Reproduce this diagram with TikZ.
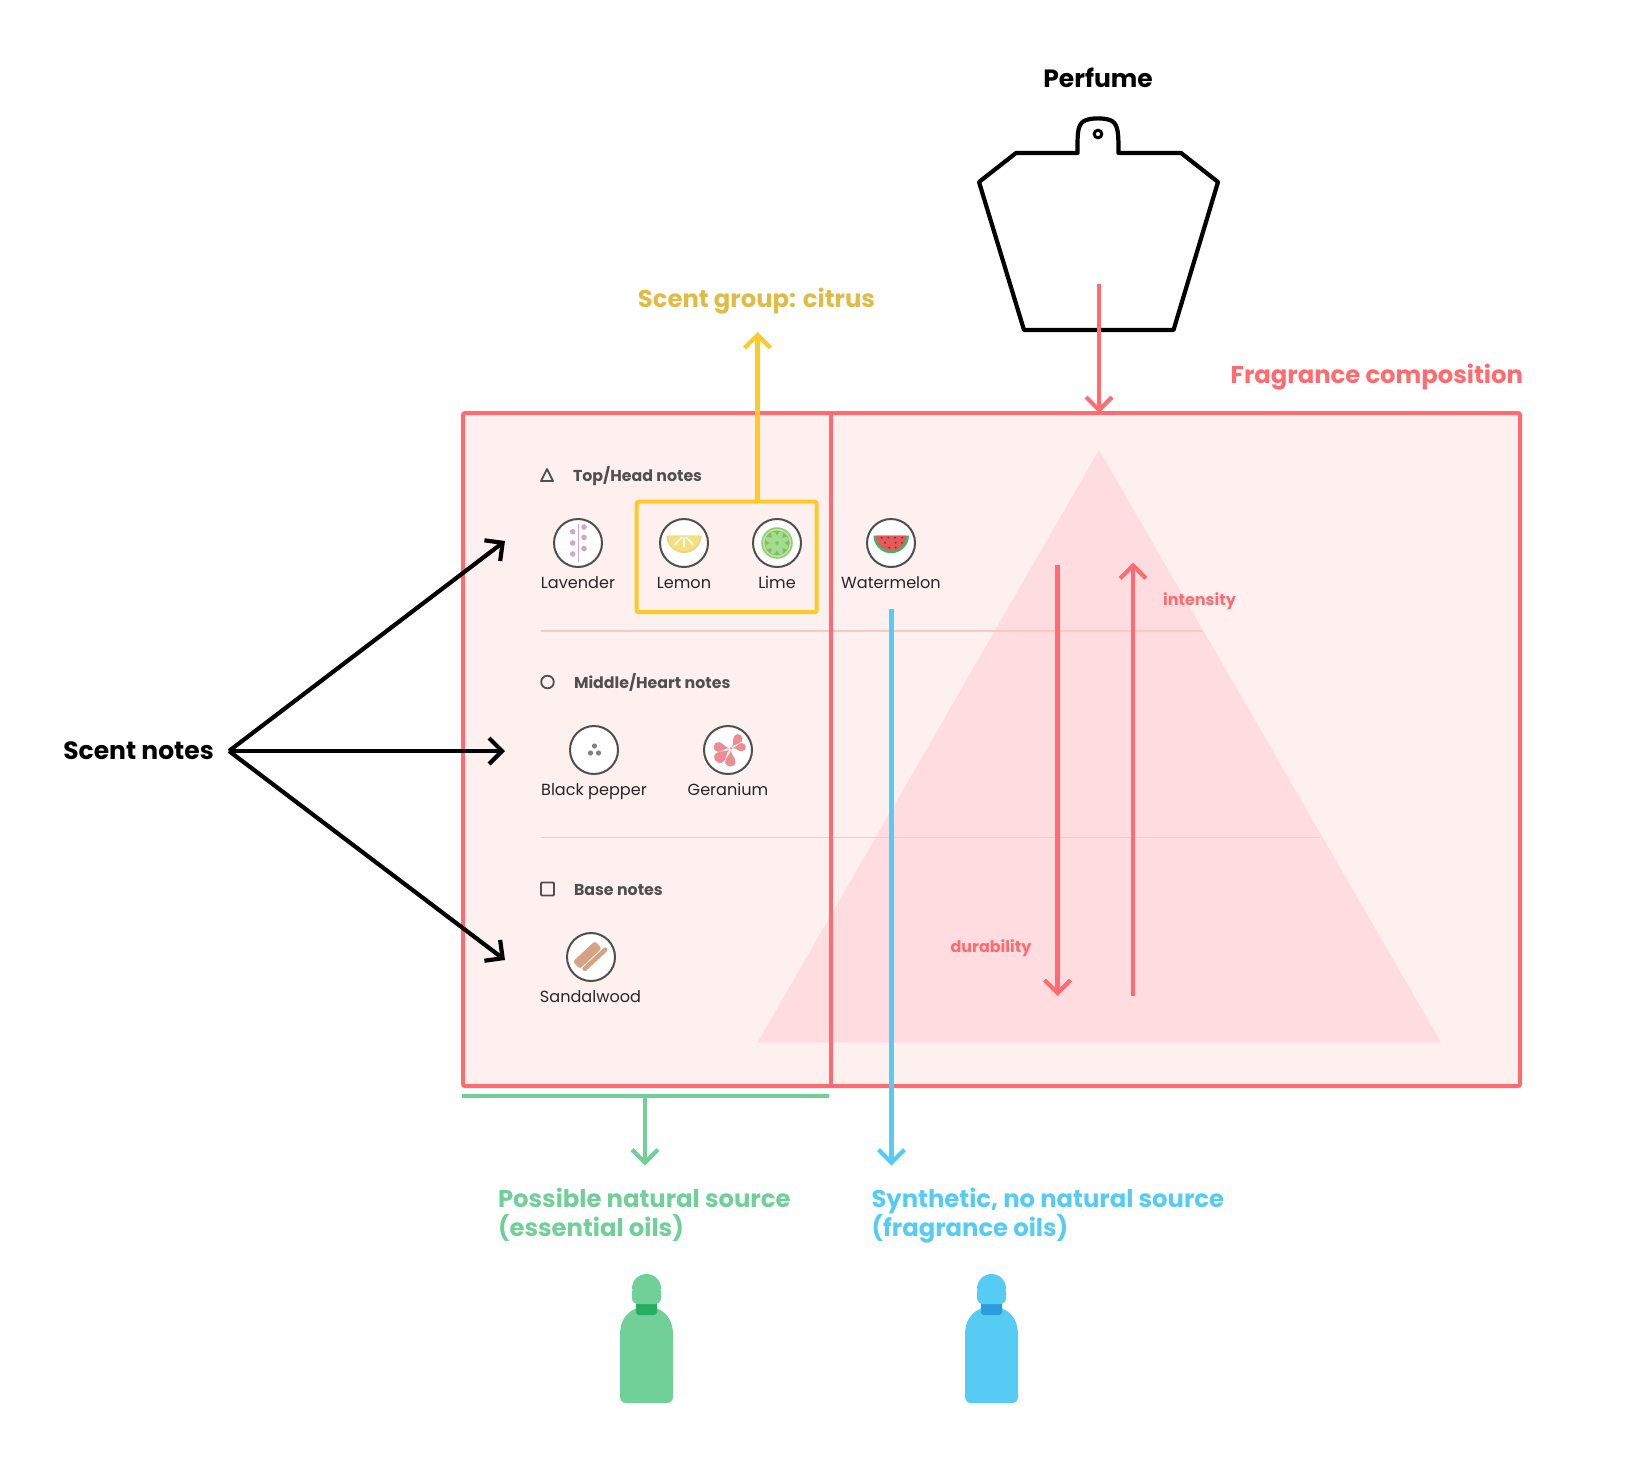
\documentclass[tikz,border=0pt]{standalone}
\usepackage{fontspec}
\setmainfont{Poppins}
\usetikzlibrary{arrows.meta}
\definecolor{cred}{HTML}{FF6B6E}
\definecolor{cbg}{HTML}{FFF0F0}
\definecolor{ctri}{HTML}{FFDCE0}
\definecolor{cdiv}{HTML}{FFC6C6}
\definecolor{cyel}{HTML}{FFC928}
\definecolor{cyeltxt}{HTML}{E0BC45}
\definecolor{cgreen}{HTML}{70D098}
\definecolor{cgreend}{HTML}{27AE60}
\definecolor{cblue}{HTML}{56CCF5}
\definecolor{cblued}{HTML}{2D9CDB}
\definecolor{cgrey}{HTML}{4F4F4F}
\definecolor{cpurple}{HTML}{CFA9CB}
\definecolor{cpink}{HTML}{EB8E94}
\definecolor{cwood}{HTML}{D4A384}
\definecolor{clemon}{HTML}{F5DF80}
\definecolor{clemrim}{HTML}{EBD285}
\definecolor{climea}{HTML}{8FD082}
\definecolor{climeb}{HTML}{CDE88E}
\definecolor{climec}{HTML}{A4DE8C}
\definecolor{cmelon}{HTML}{EB5757}
\tikzset{
  x=1pt,y=-1pt,
  every node/.style={inner sep=0pt,outer sep=0pt},
  barb/.style={line width=4.2pt,-{Straight Barb[length=13pt,width=26pt,line width=4.2pt]}},
  iconc/.style={circle,draw=cgrey,fill=white,line width=2pt,minimum size=48pt},
  lab/.style={font=\fontsize{16.1}{18}\selectfont,text=black!85,anchor=base},
  head/.style={font=\fontsize{15.8}{18}\selectfont\bfseries,text=cgrey,anchor=base west},
  big/.style={font=\fontsize{24.3}{29}\selectfont\bfseries,anchor=west,align=left},
  small/.style={font=\fontsize{16}{18}\selectfont\bfseries,text=cred},
}
\begin{document}
\begin{tikzpicture}
\useasboundingbox (0,0) rectangle (1627,1480);
% panel
\node[draw=none,fill=cbg,minimum width=1057pt,minimum height=673pt,anchor=north west,rounded corners=2pt] (panel) at (463,413) {};
\fill[ctri] (1099,450) -- (1441,1042.5) -- (757.5,1042.5) -- cycle;
\coordinate (d1a) at (540.5,631); \coordinate (d1b) at (1201.5,631);
\coordinate (d2a) at (540.5,837.5); \coordinate (d2b) at (1320,837.5);
\draw[cdiv,line width=1.3pt] (d1a) -- (d1b);
\draw[cdiv,line width=1.3pt] (d2a) -- (d2b);
\draw[cred,line width=4pt,rounded corners=2pt] (panel.north west) rectangle (panel.south east);
\coordinate (split1) at (831,413); \coordinate (split2) at (831,1086);
\draw[cred,line width=4pt] (split1) -- (split2);
% headings
\draw[cgrey,line width=1.8pt,line join=round] (547,469) -- (553,481) -- (541,481) -- cycle;
\node[head] (h1) at (573,481.5) {Top/Head notes};
\draw[cgrey,line width=1.8pt] (547.5,682) circle (6.3);
\node[head] (h2) at (574,688) {Middle/Heart notes};
\draw[cgrey,line width=1.8pt,rounded corners=1pt] (541,882.5) rectangle (554,895.5);
\node[head] (h3) at (574,895) {Base notes};
% icons row 1
\node[iconc] (lav) at (578,543) {};
\node[iconc] (lem) at (684,543) {};
\node[iconc] (lim) at (777,543) {};
\node[iconc] (wat) at (891,543) {};
\draw[cpurple,line width=1pt] (578,524) -- (578,562);
\foreach \px/\py in {572.7/531.7,572.7/543,572.7/554,584/527,584/537.5,584/548.5} \fill[cpurple] (\px,\py) circle (2.8);
\fill[clemrim] (666.5,535.5) arc[start angle=180,end angle=0,radius=17.5] -- cycle;
\fill[clemon] (668,535.5) arc[start angle=180,end angle=0,radius=16] -- cycle;
\draw[white,line width=1.6pt] (684,538) -- (684,547) (682,537) -- (675,544.5) (686,537) -- (693,544.5);
\fill[climea] (777,543) circle (15.8);
\fill[climeb] (777,543) circle (14);
\fill[climea!90!black] (777,543) circle (12.6);
\foreach \a in {0,45,...,315} \fill[climec,shift={(777,543)},rotate=\a+22.5] (7.1,0) ellipse (5.6 and 2.7);
\fill[cgreend!90!white] (873.5,535.5) arc[start angle=180,end angle=0,radius=17.7] -- cycle;
\fill[cmelon] (876,535.5) arc[start angle=180,end angle=0,radius=15.2] -- cycle;
\foreach \px/\py in {881.7/537.7,888.3/537.7,895/537.7,902.3/537.7,885/542.7,895.6/542.7,902/542.7,889.3/547.7,895.6/547.7} \fill[black!70] (\px,\py) circle (1.1);
% icons row 2
\node[iconc] (pep) at (594,750) {};
\node[iconc] (ger) at (728,750) {};
\foreach \px/\py in {594.5/746,590.5/753,598.5/753} \fill[black!50] (\px,\py) circle (2.6);
\foreach \a/\s in {54/1.15,6/1.04,-93/1.28,219/1.4,174/1.22}{
  \begin{scope}[shift={(731,748.3)},rotate=\a,scale=\s]
  \fill[cpink] (1.5,0) .. controls (5,-0.3) and (7,-4) .. (10.5,-4) .. controls (15.5,-4) and (15.5,4) .. (10.5,4) .. controls (7,4) and (5,0.3) .. (1.5,0) -- cycle;
  \end{scope}
}
\fill[cpink] (731,748.3) circle (1.4);
% icon row 3
\node[iconc] (san) at (591,957) {};
\begin{scope}[shift={(587.3,955)},rotate=43]
\fill[cwood,rounded corners=2.5pt] (-15,-5) rectangle (15,5);
\end{scope}
\begin{scope}[shift={(595,959.3)},rotate=43]
\draw[cwood,line width=4.6pt,line cap=round] (-14,0) -- (14,0);
\end{scope}
% labels
\node[lab] (l1) at (578,588.3) {Lavender};
\node[lab] (l2) at (684,588.3) {Lemon};
\node[lab] (l3) at (777,588.3) {Lime};
\node[lab] (l4) at (891,588.3) {Watermelon};
\node[lab] (l5) at (594,795.5) {Black pepper};
\node[lab] (l6) at (728,795.5) {Geranium};
\node[lab] (l7) at (590.5,1002) {Sandalwood};
% yellow group
\node[draw=cyel,line width=4pt,rounded corners=2pt,minimum width=180pt,minimum height=110.5pt,anchor=north west] (grp) at (636.7,501.7) {};
\node[big,text=cyeltxt,anchor=center] (citrus) at (756.5,301.5) {Scent group: citrus};
\coordinate (grpt) at (757.5,501.7); \coordinate (citb) at (757.5,332);
\draw[barb,cyel] (grpt) -- (citb);
% perfume
\node[big,anchor=center,text=black,font=\fontsize{25}{29}\selectfont\bfseries] (perfume) at (1098,77.5) {Perfume};
\draw[line width=4.2pt,line join=round,fill=white] (1077.5,153) .. controls (1077.5,135) and (1077,125) .. (1084,121) .. controls (1090,117.5) and (1106,117.5) .. (1112,121) .. controls (1118.5,125) and (1118.5,135) .. (1118.5,153) -- (1181,153) -- (1218,182) -- (1173.5,330) -- (1024,330) -- (979,182) -- (1016,153) -- cycle;
\draw[line width=3pt] (1098,134) circle (3.8);
\coordinate (pb) at (1099,284); \coordinate (pt) at (1099,413);
\draw[barb,cred] (pb) -- (pt);
\node[big,text=cred,anchor=east] (frag) at (1523,377.5) {Fragrance composition};
% pyramid arrows
\coordinate (da) at (1057.5,564.5); \coordinate (db) at (1057.5,996);
\coordinate (ia) at (1133,996); \coordinate (ib) at (1133,562.5);
\draw[barb,cred] (da) -- (db);
\draw[barb,cred] (ia) -- (ib);
\node[small] (intens) at (1199.5,601.5) {intensity};
\node[small] (dur) at (991,948.5) {durability};
% scent notes
\node[big,anchor=center,text=black,font=\fontsize{25}{29}\selectfont\bfseries] (scent) at (138.5,751) {Scent notes};
\coordinate (sn) at (229,751); \coordinate (s1) at (505,541); \coordinate (s2) at (505,751); \coordinate (s3) at (505,960);
\draw[barb,black] (sn) -- (s1);
\draw[barb,black] (sn) -- (s2);
\draw[barb,black] (sn) -- (s3);
% sources
\coordinate (gl) at (462,1096); \coordinate (gr) at (829,1096);
\draw[cgreen,line width=4pt] (gl) -- (gr);
\coordinate (gm) at (645,1096); \coordinate (ge) at (645,1165.5);
\draw[barb,cgreen] (gm) -- (ge);
\coordinate (bs) at (891.5,609); \coordinate (be) at (891.5,1165.5);
\draw[barb,cblue] (bs) -- (be);
\node[big,text=cgreen] (nat) at (498,1214.5) {Possible natural source\\(essential oils)};
\node[big,text=cblue] (syn) at (871.5,1215.5) {Synthetic, no natural source\\(fragrance oils)};
% bottles
\foreach \dx/\c/\d in {0/cgreen/cgreend,345/cblue/cblued}{
  \begin{scope}[shift={(\dx,0)}]
  \fill[\c] (620,1334) [rounded corners=6pt] -- (620,1403) -- (673,1403) [sharp corners] -- (673,1334) -- cycle;
  \fill[\c] (620,1335) .. controls (620,1316) and (632,1306.5) .. (646.5,1306.5) .. controls (661,1306.5) and (673,1316) .. (673,1335) -- cycle;
  \fill[\d,rounded corners=3pt] (636,1298) rectangle (657,1315);
  \fill[\c,rounded corners=6pt] (632,1304) -- (632,1286) -- (661,1286) -- (661,1304) -- cycle;
  \fill[\c] (632,1289) -- (632,1288.5) arc[start angle=180,end angle=360,radius=14.5] -- (661,1289) -- cycle;
  \end{scope}
}
\end{tikzpicture}
\end{document}
